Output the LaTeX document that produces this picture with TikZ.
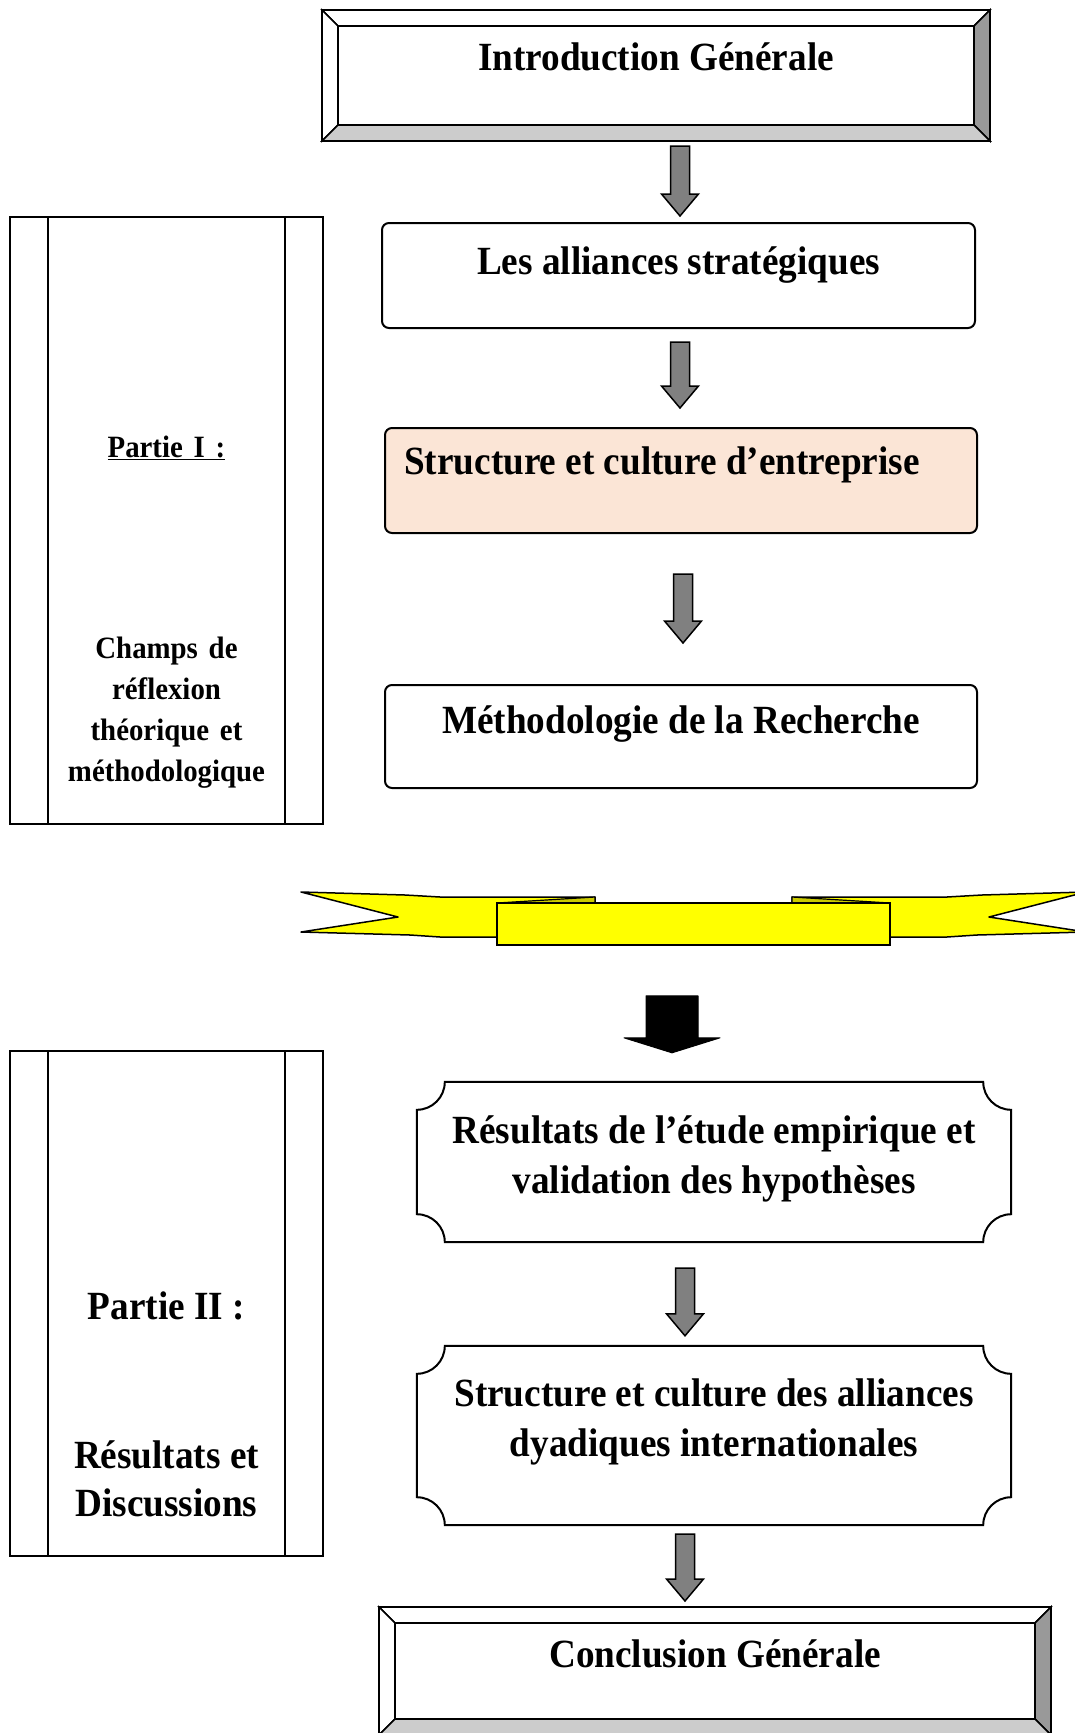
\documentclass[tikz,border=0pt]{standalone}
\usepackage{fontspec}
\setmainfont{Liberation Serif}[FakeStretch=0.93]
\newfontfamily\sidefont{Liberation Serif}[FakeStretch=0.93,WordSpace=1.5]
\usetikzlibrary{calc,positioning}

\definecolor{arrowgray}{HTML}{808080}
\definecolor{bevdark}{HTML}{999999}
\definecolor{bevlight}{HTML}{CCCCCC}
\definecolor{peach}{HTML}{FBE5D6}
\definecolor{ribbonyellow}{HTML}{FFFF00}
\definecolor{ribbonfold}{HTML}{CCCC00}

\tikzset{
  boxtext/.style={font=\fontsize{40}{50}\selectfont\bfseries, align=center, inner sep=0pt},
  sidetext/.style={font=\sidefont\fontsize{31}{41}\selectfont\bfseries, align=center, inner sep=0pt},
  bigside/.style={font=\fontsize{40}{48}\selectfont\bfseries, align=center, inner sep=0pt},
  bevelbox/.style={draw, line width=2pt, inner sep=0pt},
  procbox/.style={draw, line width=2pt, rounded corners=7pt, inner sep=0pt},
  plaquebox/.style={inner sep=0pt},
  partbox/.style={draw, line width=1.8pt, inner sep=0pt},
  grayarrow/.style={fill=arrowgray, draw=black, line width=1.5pt, line join=miter},
  blackarrow/.style={fill=black, draw=black, line width=1pt, line join=round}
}

% bevel frame round a node: #1 node, #2 bevel width
\newcommand{\bevelframe}[2]{%
  \filldraw[fill=white, line width=1.5pt] (#1.north west) -- (#1.north east) -- ([shift={(-#2,-#2)}]#1.north east) -- ([shift={(#2,-#2)}]#1.north west) -- cycle;
  \filldraw[fill=white, line width=1.5pt] (#1.north west) -- ([shift={(#2,-#2)}]#1.north west) -- ([shift={(#2,#2)}]#1.south west) -- (#1.south west) -- cycle;
  \filldraw[fill=bevdark, line width=1.5pt] (#1.north east) -- (#1.south east) -- ([shift={(-#2,#2)}]#1.south east) -- ([shift={(-#2,-#2)}]#1.north east) -- cycle;
  \filldraw[fill=bevlight, line width=1.5pt] (#1.south west) -- (#1.south east) -- ([shift={(-#2,#2)}]#1.south east) -- ([shift={(#2,#2)}]#1.south west) -- cycle;
  \draw[line width=2pt] ([shift={(#2,-#2)}]#1.north west) rectangle ([shift={(-#2,#2)}]#1.south east);
  \draw[line width=2pt] (#1.north west) rectangle (#1.south east);
}

% plaque outline with hollow corners: #1 node, #2 corner size
\newcommand{\plaqueframe}[2]{%
  \draw[line width=2pt] ([xshift=#2]#1.north west) -- ([xshift=-#2]#1.north east)
    arc[start angle=180, end angle=270, radius=#2] -- ([yshift=#2]#1.south east)
    arc[start angle=90, end angle=180, radius=#2] -- ([xshift=#2]#1.south west)
    arc[start angle=0, end angle=90, radius=#2] -- ([yshift=-#2]#1.north west)
    arc[start angle=270, end angle=360, radius=#2] -- cycle;
}

% block arrow: #1 style, #2 from, #3 to, #4 half shaft, #5 half head, #6 head length
\newcommand{\blockarrow}[6]{%
  \draw[#1] let \p1=(#2), \p2=(#3) in
    (\x2-#4,\y1) -- (\x2+#4,\y1) -- (\x2+#4,\y2+#6) -- (\x2+#5,\y2+#6)
    -- (\x2,\y2) -- (\x2-#5,\y2+#6) -- (\x2-#4,\y2+#6) -- cycle;
}

\begin{document}
\begin{tikzpicture}[x=1pt,y=1pt]
\useasboundingbox (0,0) rectangle (1075,-1733);

% Partie I
\node[partbox, minimum width=313pt, minimum height=607pt] (part1) at (166.5,-520.5) {};
\draw[line width=1.8pt] ([xshift=39pt]part1.north west) -- ([xshift=39pt]part1.south west);
\draw[line width=1.8pt] ([xshift=-39pt]part1.north east) -- ([xshift=-39pt]part1.south east);
\node[sidetext, anchor=base] (part1T) at ([yshift=-241pt]part1.north) {\underline{Partie I :}};
\node[sidetext, anchor=base] (part1S) at ([yshift=-565pt]part1.north) {Champs de\\réflexion\\théorique et\\méthodologique};

% Partie II
\node[partbox, minimum width=313pt, minimum height=505pt] (part2) at (166.5,-1303.5) {};
\draw[line width=1.8pt] ([xshift=39pt]part2.north west) -- ([xshift=39pt]part2.south west);
\draw[line width=1.8pt] ([xshift=-39pt]part2.north east) -- ([xshift=-39pt]part2.south east);
\node[bigside, anchor=base] (part2T) at ([yshift=-269pt]part2.north) {Partie II :};
\node[bigside, anchor=base] (part2S) at ([yshift=-466pt]part2.north) {Résultats et\\Discussions};

% main column
\node[bevelbox, minimum width=666pt, minimum height=129pt] (intro) at (656,-75.5) {};
\bevelframe{intro}{16pt}
\node[boxtext, anchor=base] (introT) at ([yshift=-60pt]intro.north) {Introduction Générale};

\node[procbox, minimum width=593pt, minimum height=105pt] (alli) at (678.5,-275.5) {};
\node[boxtext, anchor=base] (alliT) at ([yshift=-52pt]alli.north) {Les alliances stratégiques};

\node[procbox, fill=peach, minimum width=592pt, minimum height=105pt] (struct) at (681,-480.5) {};
\node[boxtext, anchor=base] (structT) at ([xshift=-19pt,yshift=-47pt]struct.north) {Structure et culture d’entreprise};

\node[procbox, minimum width=592pt, minimum height=103pt] (metho) at (681,-736.5) {};
\node[boxtext, anchor=base] (methoT) at ([yshift=-49pt]metho.north) {Méthodologie de la Recherche};

% ribbon
\filldraw[fill=ribbonyellow, line width=1.5pt, line join=round] (301,-892) -- (405,-895) -- (440,-897) -- (595,-897) -- (595,-920) -- (497,-937) -- (440,-937) -- (410,-935) -- (301,-932) -- (398,-917) -- cycle;
\filldraw[fill=ribbonyellow, line width=1.5pt, line join=round] (1086,-892) -- (982,-895) -- (947,-897) -- (792,-897) -- (792,-920) -- (890,-937) -- (947,-937) -- (977,-935) -- (1086,-932) -- (989,-917) -- cycle;
\filldraw[fill=ribbonfold, line width=1.2pt] (497,-903) -- (595,-897) -- (595,-905) -- cycle;
\filldraw[fill=ribbonfold, line width=1.2pt] (890,-903) -- (792,-897) -- (792,-905) -- cycle;
\node[draw, fill=ribbonyellow, line width=1.5pt, minimum width=393pt, minimum height=42pt, inner sep=0pt] (ribbon) at (693.5,-924) {};

\node[plaquebox, minimum width=594pt, minimum height=160pt] (res) at (714,-1162) {};
\plaqueframe{res}{28pt}
\node[boxtext, anchor=base] (resT) at ([yshift=-112pt]res.north) {Résultats de l’étude empirique et\\validation des hypothèses};

\node[plaquebox, minimum width=594pt, minimum height=179pt] (struct2) at (714,-1435.5) {};
\plaqueframe{struct2}{28pt}
\node[boxtext, anchor=base] (struct2T) at ([yshift=-111pt]struct2.north) {Structure et culture des alliances\\dyadiques internationales};

\node[bevelbox, minimum width=670pt, minimum height=126pt] (concl) at (715,-1671) {};
\bevelframe{concl}{16pt}
\node[boxtext, anchor=base] (conclT) at ([yshift=-60pt]concl.north) {Conclusion Générale};

% arrows
\blockarrow{grayarrow}{[yshift=-5pt]intro.south}{[xshift=1.5pt,yshift=6pt]alli.north}{9.5pt}{18.5pt}{22pt}
\blockarrow{grayarrow}{[yshift=-13pt]alli.south}{[xshift=-1pt,yshift=19pt]struct.north}{9.5pt}{18.5pt}{22pt}
\blockarrow{grayarrow}{[yshift=-40pt]struct.south}{[xshift=2pt,yshift=41pt]metho.north}{9.5pt}{18.5pt}{22pt}
\blockarrow{blackarrow}{[yshift=-50pt]ribbon.south}{[xshift=-42pt,yshift=29pt]res.north}{26pt}{48pt}{15pt}
\blockarrow{grayarrow}{[yshift=-26pt]res.south}{[xshift=-29pt,yshift=10pt]struct2.north}{9.5pt}{18.5pt}{22pt}
\blockarrow{grayarrow}{[yshift=-9pt]struct2.south}{[xshift=-30pt,yshift=6pt]concl.north}{9.5pt}{18.5pt}{22pt}

\end{tikzpicture}
\end{document}
